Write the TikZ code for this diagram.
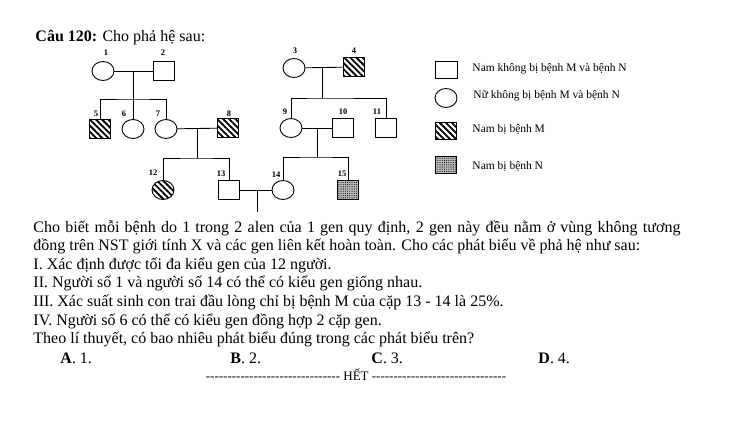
\documentclass[tikz,border=0pt]{standalone}
\usepackage{fontspec}
\setmainfont{Liberation Serif}
\usetikzlibrary{shapes.geometric,patterns.meta}
\newcommand{\dashrun}{-{}-{}-{}-{}-{}-{}-{}-{}-{}-{}-{}-{}-{}-{}-{}-{}-{}-{}-{}-{}-{}-{}-{}-{}-{}-{}-{}-{}-{}-{}-{}}
\begin{document}
\begin{tikzpicture}[x=1pt,y=-1pt,
  line width=0.9pt,
  fem/.style={draw,ellipse,minimum width=22pt,minimum height=19pt,inner sep=0pt},
  mal/.style={draw,rectangle,minimum width=21pt,minimum height=19pt,inner sep=0pt},
  hatchM/.style={pattern={Lines[angle=-45,distance=4.3pt,line width=1.8pt]}},
  dotN/.style={preaction={fill=gray!55},pattern={Dots[distance=2.2pt,radius=0.55pt]}},
  num/.style={font=\fontsize{8.5}{9}\selectfont\bfseries,inner sep=0pt},
  leg/.style={font=\fontsize{11.5}{12}\selectfont,anchor=west,inner sep=0pt},
  txt/.style={font=\fontsize{16}{18}\selectfont,anchor=base west,inner sep=0pt},
  conn/.style={line width=0.9pt}]
\useasboundingbox (0,0) rectangle (749,431);

% title
\node[txt] (title) at (35,41) {\textbf{Câu 120:} Cho phả hệ sau:};

% generation I
\node[fem] (p1) at (103,71) {};
\node[mal] (p2) at (164,71) {};
\node[fem] (p3) at (294,68) {};
\node[mal,hatchM] (p4) at (354,67) {};
% generation II
\node[mal,hatchM] (p5) at (100,129) {};
\node[fem] (p6) at (133,129) {};
\node[fem] (p7) at (166,129) {};
\node[mal,hatchM] (p8) at (228,128) {};
\node[fem] (p9) at (291,128) {};
\node[mal] (p10) at (343,128) {};
\node[mal] (p11) at (386,128) {};
% generation III
\node[fem,hatchM] (p12) at (163,190) {};
\node[mal] (p13) at (229,190) {};
\node[fem] (p14) at (283,190) {};
\node[mal,dotN] (p15) at (348,190) {};

% numbers
\node[num] (n1) at (106,53) {1};
\node[num] (n2) at (163,53) {2};
\node[num] (n3) at (295,51) {3};
\node[num] (n4) at (354,51) {4};
\node[num] (n5) at (96,114) {5};
\node[num] (n6) at (124,114) {6};
\node[num] (n7) at (158,114) {7};
\node[num] (n8) at (229,114) {8};
\node[num] (n9) at (285,112) {9};
\node[num] (n10) at (343,112) {10};
\node[num] (n11) at (377,112) {11};
\node[num] (n12) at (153,173) {12};
\node[num] (n13) at (221,174) {13};
\node[num] (n14) at (276,175) {14};
\node[num] (n15) at (342,174) {15};

% junctions
\coordinate (m12) at (133,71);
\coordinate (b12) at (133,99);
\coordinate (m34) at (322,67);
\coordinate (b34) at (322,98);
\coordinate (m78) at (197,128);
\coordinate (b78) at (197,158);
\coordinate (m910) at (317,128);
\coordinate (b910) at (317,157);
\coordinate (m1314) at (257,190);
\coordinate (e1314) at (257,212);

% connectors
\draw[conn] (p1) -- (p2);
\draw[conn] (m12) -- (b12);
\draw[conn] (p5.north) |- (b12) -| (p7.north);
\draw[conn] (b12) -- (p6.north);

\draw[conn] (p3) -- (p4);
\draw[conn] (m34) -- (b34);
\draw[conn] (p9.north) |- (b34) -| (p11.north);

\draw[conn] (p7) -- (p8);
\draw[conn] (m78) -- (b78);
\draw[conn] (p12.north) |- (b78) -| (p13.north);

\draw[conn] (p9) -- (p10);
\draw[conn] (m910) -- (b910);
\draw[conn] (p14.north) |- (b910) -| (p15.north);

\draw[conn] (p13) -- (p14);
\draw[conn] (m1314) -- (e1314);

% legend
\node[mal,minimum height=17pt,minimum width=22pt] (L1) at (446,70) {};
\node[fem] (L2) at (446,98) {};
\node[mal,hatchM,minimum height=17pt] (L3) at (446,131) {};
\node[mal,dotN,minimum height=17pt] (L4) at (446,165) {};
\node[leg] (t1) at (472,69) {Nam không bị bệnh M và bệnh N};
\node[leg] (t2) at (473,96) {Nữ không bị bệnh M và bệnh N};
\node[leg] (t3) at (472,129) {Nam bị bệnh M};
\node[leg] (t4) at (472,166) {Nam bị bệnh N};

% text
\node[txt] (l1) at (33,232) {\makebox[647pt][s]{Cho biết mỗi bệnh do 1 trong 2 alen của 1 gen quy định, 2 gen này đều nằm ở vùng không tương}};
\node[txt] (l2) at (33,250.5) {đồng trên NST giới tính X và các gen liên kết hoàn toàn. Cho các phát biểu về phả hệ như sau:};
\node[txt] (l3) at (33,269.5) {I. Xác định được tối đa kiểu gen của 12 người.};
\node[txt] (l4) at (33,287.5) {II. Người số 1 và người số 14 có thể có kiểu gen giống nhau.};
\node[txt] (l5) at (33,306.5) {III. Xác suất sinh con trai đầu lòng chỉ bị bệnh M của cặp 13 - 14 là 25\%.};
\node[txt] (l6) at (33,325.5) {IV. Người số 6 có thể có kiểu gen đồng hợp 2 cặp gen.};
\node[txt] (l7) at (33,343.5) {Theo lí thuyết, có bao nhiêu phát biểu đúng trong các phát biểu trên?};
\node[txt] (aA) at (60,363) {\textbf{A}. 1.};
\node[txt] (aB) at (230,363) {\textbf{B}. 2.};
\node[txt] (aC) at (371,363) {\textbf{C}. 3.};
\node[txt] (aD) at (538,363) {\textbf{D}. 4.};
\node[txt,anchor=base] (het) at (356,380) {\fontsize{13}{14}\selectfont \dashrun{} HẾT \dashrun};
\end{tikzpicture}
\end{document}
